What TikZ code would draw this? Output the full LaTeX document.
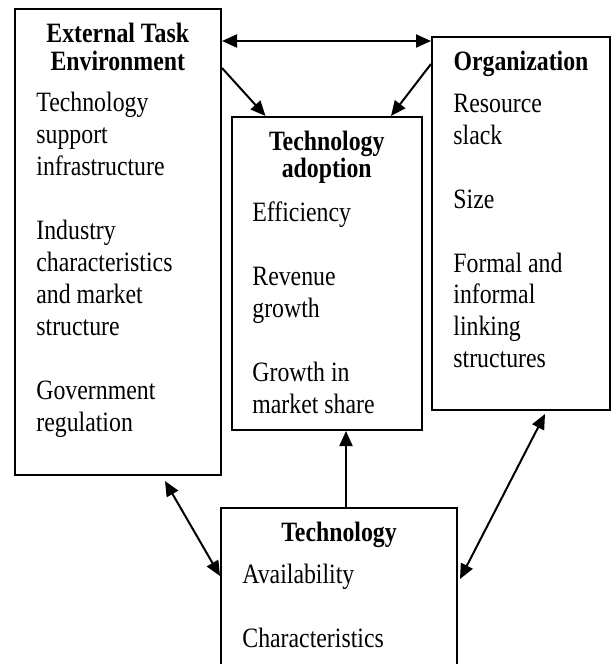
\documentclass[tikz,border=0pt]{standalone}
\usepackage{fontspec}
\setmainfont{Liberation Serif}[FakeStretch=0.85]
\usetikzlibrary{arrows.meta,calc}
\begin{document}
\begin{tikzpicture}[x=0.5pt,y=-0.5pt,
  box/.style={draw,line width=1pt,rectangle,inner sep=0pt},
  title/.style={anchor=base,font=\bfseries\fontsize{14}{14}\selectfont,inner sep=0pt},
  item/.style={anchor=base west,font=\fontsize{14}{16}\selectfont,inner sep=0pt},
  tip/.tip={Triangle[length=7.5pt,width=6.5pt]},
  link/.style={line width=1pt,-tip},
  both/.style={line width=1pt,tip-tip}]

\useasboundingbox (0,0) rectangle (611,664);
\clip (0,0) rectangle (611,664);

% boxes
\node[box,minimum width=103.25pt,minimum height=233pt] (ext) at (117.75,242) {};
\node[box,minimum width=95.25pt,minimum height=156.5pt] (adp) at (326.75,273.5) {};
\node[box,minimum width=89pt,minimum height=186.75pt] (org) at (521,223.25) {};
\node[box,minimum width=118pt,minimum height=96pt] (tec) at (339,604) {};

% External task environment
\node[title] (extT1) at (117.75,42.3) {External Task};
\node[title] (extT2) at (117.75,70) {Environment};
\node[item] (ext1) at (36,111.7) {Technology};
\node[item] (ext2) at (36,143.7) {support};
\node[item] (ext3) at (36,175.7) {infrastructure};
\node[item] (ext4) at (36,239.7) {Industry};
\node[item] (ext5) at (36,271.7) {characteristics};
\node[item] (ext6) at (36,303.7) {and market};
\node[item] (ext7) at (36,335.7) {structure};
\node[item] (ext8) at (36,399.7) {Government};
\node[item] (ext9) at (36,431.7) {regulation};

% Technology adoption
\node[title] (adpT1) at (326.75,150.7) {Technology};
\node[title] (adpT2) at (326.75,177.7) {adoption};
\node[item] (adp1) at (252,221.7) {Efficiency};
\node[item] (adp2) at (252,285.7) {Revenue};
\node[item] (adp3) at (252,317.5) {growth};
\node[item] (adp4) at (252,381.5) {Growth in};
\node[item] (adp5) at (252,413.3) {market share};

% Organization
\node[title] (orgT1) at (521,70.7) {Organization};
\node[item] (org1) at (453,112.3) {Resource};
\node[item] (org2) at (453,144.3) {slack};
\node[item] (org3) at (453,208) {Size};
\node[item] (org4) at (453,272) {Formal and};
\node[item] (org5) at (453,303.5) {informal};
\node[item] (org6) at (453,335) {linking};
\node[item] (org7) at (453,367) {structures};

% Technology
\node[title] (tecT1) at (339,541.7) {Technology};
\node[item] (tec1) at (242,583.5) {Availability};
\node[item] (tec2) at (242,647) {Characteristics};

% connector end points on the box borders
\coordinate (e1) at ($(ext.north east)+(0,33)$);
\coordinate (o1) at ($(org.north west)+(0,5.5)$);
\coordinate (e2) at ($(ext.north east)+(0,60)$);
\coordinate (a1) at ($(adp.north west)+(35,0)$);
\coordinate (o2) at ($(org.north west)+(0,28.5)$);
\coordinate (a2) at ($(adp.north east)+(-32,0)$);
\coordinate (t1) at ($(tec.north west)+(126,0)$);
\coordinate (a3) at ($(adp.south west)+(115.5,0)$);
\coordinate (e3) at ($(ext.south east)+(-57,5)$);
\coordinate (t2) at ($(tec.north west)+(0,69)$);
\coordinate (o3) at ($(org.south west)+(114,3)$);
\coordinate (t3) at ($(tec.north east)+(2,72)$);

% connectors
\draw[both] (e1) -- (o1);
\draw[link] (e2) -- (a1);
\draw[link] (o2) -- (a2);
\draw[link] (t1) -- (a3);
\draw[both] (e3) -- (t2);
\draw[both] (o3) -- (t3);
\end{tikzpicture}
\end{document}
